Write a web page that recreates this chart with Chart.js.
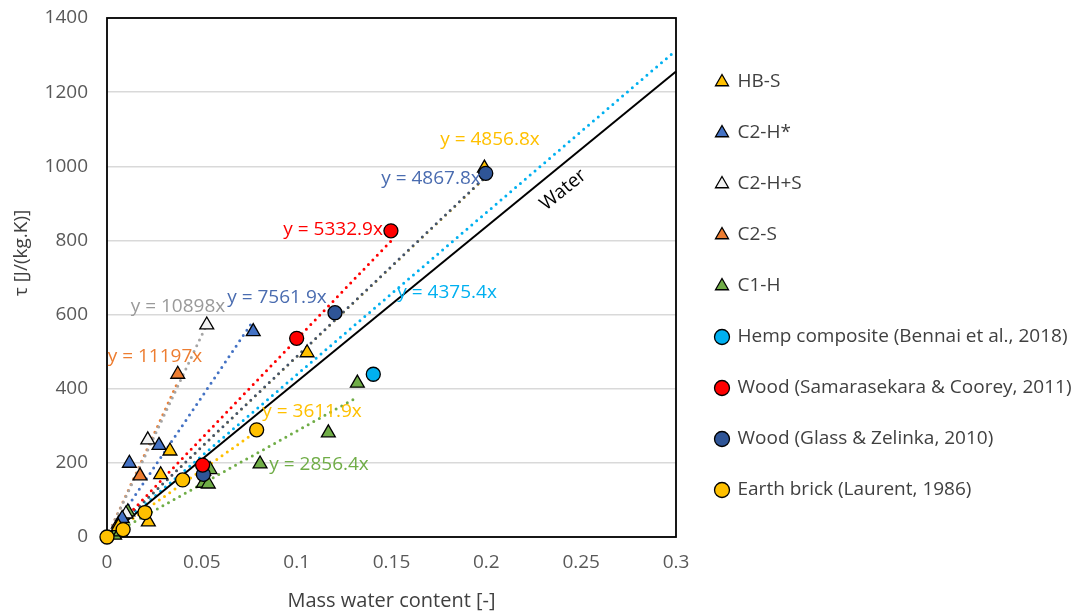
<!DOCTYPE html>
<html>
<head>
<meta charset="utf-8">
<script src="https://cdn.jsdelivr.net/npm/chart.js@4.4.1/dist/chart.umd.min.js"></script>
<style>
  html, body { margin: 0; padding: 0; background: #ffffff; }
  canvas { display: block; }
</style>
</head>
<body>
<canvas id="chart" width="1076" height="614"></canvas>
<script>
// ---- data -------------------------------------------------------------
const seriesNames = [
  'HB-S', 'C2-H*', 'C2-H+S', 'C2-S', 'C1-H',
  'Hemp composite (Bennai et al., 2018)',
  'Wood (Samarasekara & Coorey, 2011)',
  'Wood (Glass & Zelinka, 2010)',
  'Earth brick (Laurent, 1986)'
];

// mass water content [-] and volumetric heat capacity tau [J/(kg.K)]
const hbsX   = [0.006, 0.0218, 0.0283, 0.0332, 0.051, 0.1055, 0.199];
const hbsY   = [28, 41, 168, 232, 178, 497, 995];
const c2hX   = [0.008, 0.0118, 0.0274, 0.0771];
const c2hY   = [50, 199, 247, 554];
const c2hsX  = [0.010, 0.0215, 0.0526];
const c2hsY  = [62, 262, 572];
const c2sX   = [0.006, 0.0174, 0.0373];
const c2sY   = [35, 165, 439];
const c1hX   = [0.004, 0.007, 0.011, 0.0508, 0.0534, 0.0543, 0.0807, 0.1167, 0.132];
const c1hY   = [5, 14, 68, 145, 143, 182, 197, 281, 415];
const hempX  = [0.1404];
const hempY  = [439];
const woodSX = [0.0504, 0.100, 0.1497];
const woodSY = [194, 536, 826];
const woodGX = [0.0508, 0.1202, 0.1997];
const woodGY = [169, 605, 981];
const earthX = [0, 0.0085, 0.020, 0.0399, 0.0789];
const earthY = [0, 20, 66, 154, 289];

// fitted slopes (intercept forced to zero) and the x-range of each fit
const trendSlopes = [4856.8, 7561.9, 10898, 11197, 2856.4, 4375.4, 5332.9, 4867.8, 3611.9];
const trendEnds   = [0.2, 0.0771, 0.0526, 0.0373, 0.132, 0.3, 0.15, 0.2, 0.08];

// specific heat of liquid water
const waterSlope = 4186;
const waterEnd = 0.3;

const xTickValues = [0, 0.05, 0.1, 0.15, 0.2, 0.25, 0.3];
const xTickLabels = ['0', '0.05', '0.1', '0.15', '0.2', '0.25', '0.3'];
const yTickValues = [0, 200, 400, 600, 800, 1000, 1200, 1400];
const yTickLabels = ['0', '200', '400', '600', '800', '1000', '1200', '1400'];

// ---- styling ------------------------------------------------------------
const FONT = "'Open Sans', 'DejaVu Sans', sans-serif";
Chart.defaults.font.family = FONT;

const xsAll = [hbsX, c2hX, c2hsX, c2sX, c1hX, hempX, woodSX, woodGX, earthX];
const ysAll = [hbsY, c2hY, c2hsY, c2sY, c1hY, hempY, woodSY, woodGY, earthY];
const markerShape = ['triangle', 'triangle', 'triangle', 'triangle', 'triangle', 'circle', 'circle', 'circle', 'circle'];
const markerFill  = ['#FFC000', '#4472C4', '#F2F2F2', '#ED7D31', '#70AD47', '#00B0F0', '#FF0000', '#2F5597', '#FFC000'];
const trendColor  = ['#FFC000', '#4472C4', '#A5A5A5', '#ED7D31', '#70AD47', '#00B0F0', '#FF0000', '#44546A', '#FFC000'];
const labelColor  = ['#FFC000', '#4A6CB0', '#9A9A9A', '#ED7D31', '#70AD47', '#00B0F0', '#FF0000', '#4A6CB0', '#FFC000'];
// where each equation label sits, in axis units (centre of the text)
const labelAt = [
  [0.2019, 1071], [0.0896, 647], [0.0374, 622], [0.0253, 486], [0.1118, 194],
  [0.1793, 658], [0.1192, 828], [0.1708, 968], [0.1081, 337]
];
const waterLabelAt = [0.2405, 936];

const datasets = [];
seriesNames.forEach((name, i) => {
  datasets.push({
    label: name,
    data: xsAll[i].map((x, k) => ({ x: x, y: ysAll[i][k] })),
    pointStyle: markerShape[i],
    pointRadius: markerShape[i] === 'triangle' ? 8 : 7,
    pointHoverRadius: markerShape[i] === 'triangle' ? 8 : 7,
    backgroundColor: markerFill[i],
    borderColor: '#000000',
    borderWidth: 1.3,
    showLine: false,
    clip: false,
    order: markerShape[i] === 'triangle' ? 1 : 0
  });
});
seriesNames.forEach((name, i) => {
  datasets.push({
    label: name + ' fit',
    data: [{ x: 0, y: 0 }, { x: trendEnds[i], y: trendSlopes[i] * trendEnds[i] }],
    showLine: true,
    pointRadius: 0,
    pointHoverRadius: 0,
    borderColor: trendColor[i],
    backgroundColor: trendColor[i],
    borderWidth: i === 0 ? 2.4 : 3,
    borderDash: [0, 6.4],
    borderCapStyle: 'round',
    clip: false,
    order: i === 0 ? 3 : 2
  });
});
datasets.push({
  label: 'Water',
  data: [{ x: 0, y: 0 }, { x: waterEnd, y: waterSlope * waterEnd }],
  showLine: true,
  pointRadius: 0,
  pointHoverRadius: 0,
  borderColor: '#000000',
  borderWidth: 2,
  clip: false,
  order: 1.5
});

// legend sizing: keep the legend column starting just right of the plot
const LEGEND_FONT_SIZE = 19;
const LEGEND_PAD = 32;
const LEGEND_BOX = 12;
const measureCtx = document.createElement('canvas').getContext('2d');
measureCtx.font = LEGEND_FONT_SIZE + 'px ' + FONT;
const longest = Math.max(...seriesNames.map(s => measureCtx.measureText(s).width));
const legendWidth = 392;
const naturalWidth = LEGEND_PAD + LEGEND_BOX + LEGEND_FONT_SIZE / 2 + longest + 10;
const rightPad = Math.max(0, legendWidth - naturalWidth);

// ---- plugins --------------------------------------------------------------
const frame = {
  id: 'frame',
  beforeDatasetsDraw(chart) {
    const { ctx, chartArea: a } = chart;
    ctx.save();
    ctx.strokeStyle = '#000000';
    ctx.lineWidth = 1.8;
    ctx.strokeRect(a.left, a.top, a.right - a.left, a.bottom - a.top);
    ctx.restore();
  }
};

const annotations = {
  id: 'annotations',
  afterDatasetsDraw(chart) {
    const { ctx } = chart;
    const xs = chart.scales.x, ys = chart.scales.y;
    ctx.save();
    ctx.font = '19px ' + FONT;
    ctx.textAlign = 'center';
    ctx.textBaseline = 'middle';
    trendSlopes.forEach((m, i) => {
      ctx.fillStyle = labelColor[i];
      ctx.fillText('y = ' + m + 'x', xs.getPixelForValue(labelAt[i][0]), ys.getPixelForValue(labelAt[i][1]));
    });
    // label along the water line
    const x0 = xs.getPixelForValue(0), y0 = ys.getPixelForValue(0);
    const x1 = xs.getPixelForValue(waterEnd), y1 = ys.getPixelForValue(waterSlope * waterEnd);
    const ang = Math.atan2(y1 - y0, x1 - x0);
    ctx.translate(xs.getPixelForValue(waterLabelAt[0]), ys.getPixelForValue(waterLabelAt[1]));
    ctx.rotate(ang);
    ctx.fillStyle = '#000000';
    ctx.fillText('Water', 0, 0);
    ctx.restore();
  },
  afterDraw(chart) {
    const { ctx } = chart;
    ctx.save();
    ctx.font = '19px ' + FONT;
    ctx.fillStyle = '#404040';
    ctx.textAlign = 'center';
    ctx.textBaseline = 'middle';
    ctx.translate(22, 253);
    ctx.rotate(-Math.PI / 2);
    ctx.fillText('\u03C4 [J/(kg.K)]', 0, 0);
    ctx.restore();
  }
};

new Chart(document.getElementById('chart'), {
  type: 'scatter',
  data: { datasets: datasets },
  plugins: [frame, annotations],
  options: {
    responsive: false,
    devicePixelRatio: 1,
    animation: false,
    layout: { padding: { top: 18, right: rightPad, bottom: 0, left: 0 } },
    plugins: {
      tooltip: { enabled: false },
      legend: {
        position: 'right',
        align: 'start',
        fullSize: false,
        maxWidth: legendWidth,
        title: {
          display: true,
          text: ' ',
          font: { size: 10, lineHeight: 1.2 },
          padding: { top: 10.5, bottom: 0 }
        },
        labels: {
          usePointStyle: true,
          boxWidth: LEGEND_BOX,
          boxHeight: 10.6,
          padding: LEGEND_PAD,
          color: '#404040',
          font: { size: LEGEND_FONT_SIZE },
          filter: item => item.datasetIndex < seriesNames.length,
          sort: (a, b) => a.datasetIndex - b.datasetIndex
        }
      }
    },
    scales: {
      x: {
        type: 'linear',
        min: 0,
        max: 0.3,
        afterBuildTicks: s => { s.ticks = xTickValues.map(v => ({ value: v })); },
        afterFit: s => { s.height = 77; },
        grid: { display: false, drawTicks: false },
        border: { display: false },
        ticks: {
          padding: 14,
          color: '#595959',
          font: { size: 19 },
          maxRotation: 0,
          callback: (v, i) => xTickLabels[i]
        },
        title: {
          display: true,
          text: 'Mass water content [-]',
          color: '#404040',
          font: { size: 20 },
          padding: { top: 0, bottom: 1 }
        }
      },
      y: {
        type: 'linear',
        min: 0,
        max: 1400,
        afterBuildTicks: s => { s.ticks = yTickValues.map(v => ({ value: v })); },
        afterFit: s => { s.width = 107; s.paddingTop = 0; s.paddingBottom = 0; },
        grid: { color: '#D9D9D9', lineWidth: 1.4, drawTicks: false },
        border: { display: false },
        ticks: {
          padding: 19,
          color: '#595959',
          font: { size: 19 },
          callback: (v, i) => yTickLabels[i]
        }
      },
      gap: {
        type: 'linear',
        position: 'right',
        display: true,
        afterFit: s => { s.width = 8; s.paddingTop = 0; s.paddingBottom = 0; },
        grid: { display: false, drawTicks: false },
        border: { display: false },
        ticks: { display: false }
      }
    }
  }
});
</script>
</body>
</html>
